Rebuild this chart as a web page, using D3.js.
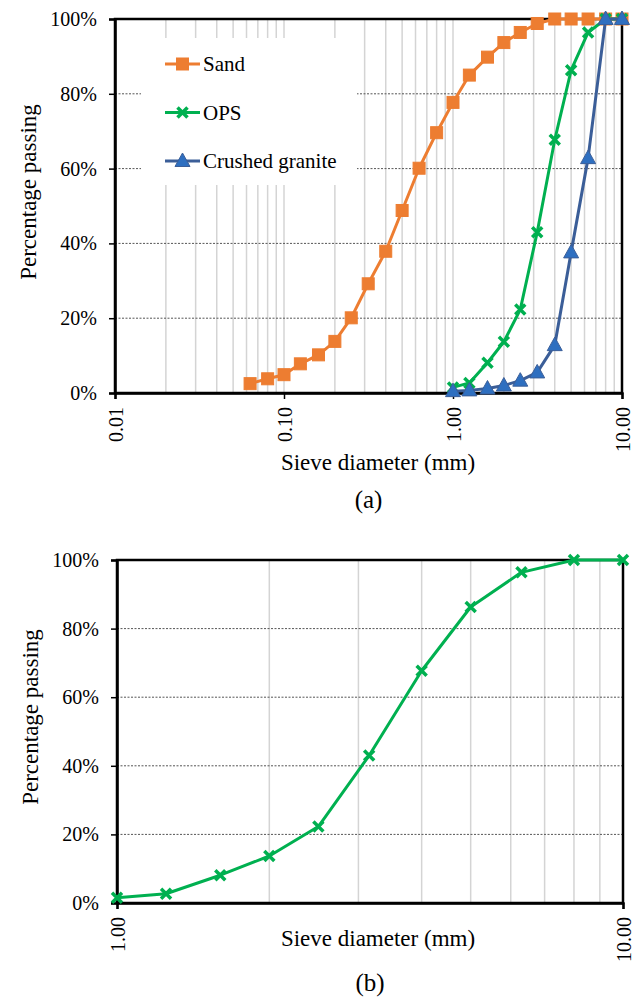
<!DOCTYPE html>
<html>
<head>
<meta charset="utf-8">
<script src="https://cdn.jsdelivr.net/npm/d3@7"></script>
<style>
  body { margin: 0; background: #fff; }
  svg text { font-family: "Liberation Serif", "Times New Roman", serif; }
</style>
</head>
<body>
<div id="chart"></div>
<script>
// Sieve sizes (mm) and percentage passing
const sandSizes = [0.063, 0.08, 0.1, 0.125, 0.16, 0.2, 0.25, 0.315, 0.4, 0.5, 0.63, 0.8, 1, 1.25, 1.6, 2, 2.5, 3.15, 4, 5, 6.3, 8, 10];
const sandPassing = [2.5, 3.8, 4.9, 7.8, 10.2, 13.8, 20.1, 29.2, 37.9, 48.8, 60.1, 69.6, 77.7, 85.0, 89.8, 93.7, 96.4, 98.8, 100, 100, 100, 100, 100];

const coarseSizes = [1, 1.25, 1.6, 2, 2.5, 3.15, 4, 5, 6.3, 8, 10];
const opsPassing = [1.5, 2.7, 8.1, 13.7, 22.3, 43.0, 67.7, 86.3, 96.4, 100, 100];
const granitePassing = [0.5, 0.7, 1.2, 2.0, 3.3, 5.5, 12.8, 37.6, 62.8, 100, 100];

const yTicks = [0, 20, 40, 60, 80, 100];
const xTicksA = [0.01, 0.1, 1, 10];
const xTicksB = [1, 10];

const seriesNames = ["Sand", "OPS", "Crushed granite"];

const ORANGE = "#ED7D31", GREEN = "#00B050", BLUE = "#3B5E98", BLUE_FILL = "#2E6FC0";

const svg = d3.select("#chart").append("svg")
    .attr("width", 640)
    .attr("height", 997);

// marcadores: quadrado, cruz, triângulo
function drawMarkers(g, pts, type, color) {
    if (type === "square") {
        g.selectAll(null).data(pts).enter().append("rect")
            .attr("x", d => d[0] - 6).attr("y", d => d[1] - 6)
            .attr("width", 12).attr("height", 12)
            .attr("fill", color).attr("stroke", color).attr("stroke-width", 1);
    } else if (type === "cross") {
        g.selectAll(null).data(pts).enter().append("path")
            .attr("d", d => `M${d[0]-5},${d[1]-5}L${d[0]+5},${d[1]+5}M${d[0]-5},${d[1]+5}L${d[0]+5},${d[1]-5}`)
            .attr("stroke", color).attr("stroke-width", 3.5).attr("fill", "none");
    } else {
        g.selectAll(null).data(pts).enter().append("path")
            .attr("d", d => `M${d[0]},${d[1]-8}L${d[0]+7.5},${d[1]+5.5}L${d[0]-7.5},${d[1]+5.5}Z`)
            .attr("fill", BLUE_FILL).attr("stroke", BLUE).attr("stroke-width", 1);
    }
}

function drawChart(cfg) {
    const g = svg.append("g");
    const x = d3.scaleLog().domain(cfg.xDomain).range([cfg.left, cfg.right]);
    const y = d3.scaleLinear().domain([0, 100]).range([cfg.bottom, cfg.top]);

    // linhas verticais (minor gridlines)
    const vLines = x.ticks().filter(v => v > cfg.xDomain[0] * 1.001 && v < cfg.xDomain[1] * 0.999);
    g.append("g").selectAll("line").data(vLines).enter().append("line")
        .attr("x1", d => x(d)).attr("x2", d => x(d))
        .attr("y1", cfg.top).attr("y2", cfg.bottom)
        .attr("stroke", "#d4d4d4").attr("stroke-width", 1.5);

    // linhas horizontais pontilhadas
    g.append("g").selectAll("line").data(yTicks.filter(v => v > 0 && v < 100)).enter().append("line")
        .attr("x1", cfg.left).attr("x2", cfg.right)
        .attr("y1", d => y(d)).attr("y2", d => y(d))
        .attr("stroke", "#555").attr("stroke-width", 1).attr("stroke-dasharray", "2,1.5");

    // fundo branco da legenda tapa a grelha
    if (cfg.legend) {
        g.append("rect")
            .attr("x", 141).attr("y", 38).attr("width", 216).attr("height", 147)
            .attr("fill", "#fff");
    }

    // caixa da área do gráfico
    g.append("rect")
        .attr("x", cfg.left).attr("y", cfg.top)
        .attr("width", cfg.right - cfg.left).attr("height", cfg.bottom - cfg.top)
        .attr("fill", "none").attr("stroke", "#000").attr("stroke-width", 2.5);

    // eixos
    const yAxis = g.append("g")
        .attr("transform", `translate(${cfg.left},0)`)
        .call(d3.axisLeft(y).tickValues(yTicks).tickFormat(d => d + "%").tickSize(6).tickPadding(12));
    const xAxis = g.append("g")
        .attr("transform", `translate(0,${cfg.bottom})`)
        .call(d3.axisBottom(x).tickValues(cfg.xTicks).tickFormat(d3.format(".2f")).tickSize(6));
    [yAxis, xAxis].forEach(a => {
        a.attr("font-family", null);
        a.select(".domain").attr("stroke", "#000").attr("stroke-width", 2.5);
        a.selectAll(".tick line").attr("stroke", "#000").attr("stroke-width", 1.5);
        a.selectAll("text").attr("font-size", 20).attr("fill", "#000");
    });
    xAxis.selectAll("text")
        .attr("transform", "rotate(-90)")
        .attr("text-anchor", "end")
        .attr("x", -14).attr("y", 0).attr("dy", "0.35em");

    // séries
    const line = d3.line().x(d => d[0]).y(d => d[1]);
    cfg.series.forEach(s => {
        const pts = s.sizes.map((v, i) => [x(v), y(s.values[i])]);
        g.append("path").datum(pts)
            .attr("d", line).attr("fill", "none")
            .attr("stroke", s.color).attr("stroke-width", 3)
            .attr("stroke-linejoin", "round");
        drawMarkers(g.append("g"), pts, s.marker, s.color);
    });

    // legenda
    if (cfg.legend) {
        const lg = g.append("g");
        cfg.series.forEach((s, i) => {
            const ly = 64 + i * 48.5;
            lg.append("line").attr("x1", 165).attr("x2", 200).attr("y1", ly).attr("y2", ly)
                .attr("stroke", s.color).attr("stroke-width", 3);
            drawMarkers(lg.append("g"), [[182.5, ly]], s.marker, s.color);
            lg.append("text").attr("x", 203).attr("y", ly).attr("dy", "0.35em")
                .attr("font-size", 21).text(s.name);
        });
    }

    // títulos
    g.append("text")
        .attr("transform", `translate(${cfg.yTitleX},${cfg.yTitleY}) rotate(-90)`)
        .attr("text-anchor", "middle").attr("dy", "0.35em")
        .attr("font-size", 23).text("Percentage passing");
    g.append("text")
        .attr("x", cfg.xTitleX).attr("y", cfg.xTitleY)
        .attr("text-anchor", "middle").attr("font-size", 23)
        .text("Sieve diameter (mm)");
    g.append("text")
        .attr("x", (cfg.left + cfg.right) / 2).attr("y", cfg.labelY)
        .attr("text-anchor", "middle").attr("font-size", 25)
        .text(cfg.label);
}

// (a) os três materiais
drawChart({
    left: 115, right: 622, top: 19, bottom: 393,
    xDomain: [0.01, 10], xTicks: xTicksA,
    yTitleX: 28, yTitleY: 192, xTitleX: 378, xTitleY: 470, labelY: 508, label: "(a)",
    legend: true,
    series: [
        { name: seriesNames[0], sizes: sandSizes, values: sandPassing, color: ORANGE, marker: "square" },
        { name: seriesNames[1], sizes: coarseSizes, values: opsPassing, color: GREEN, marker: "cross" },
        { name: seriesNames[2], sizes: coarseSizes, values: granitePassing, color: BLUE, marker: "triangle" }
    ]
});

// (b) só OPS
drawChart({
    left: 117, right: 623, top: 560, bottom: 903,
    xDomain: [1, 10], xTicks: xTicksB,
    yTitleX: 30, yTitleY: 717, xTitleX: 378, xTitleY: 946, labelY: 991, label: "(b)",
    legend: false,
    series: [
        { name: seriesNames[1], sizes: coarseSizes, values: opsPassing, color: GREEN, marker: "cross" }
    ]
});
</script>
</body>
</html>
